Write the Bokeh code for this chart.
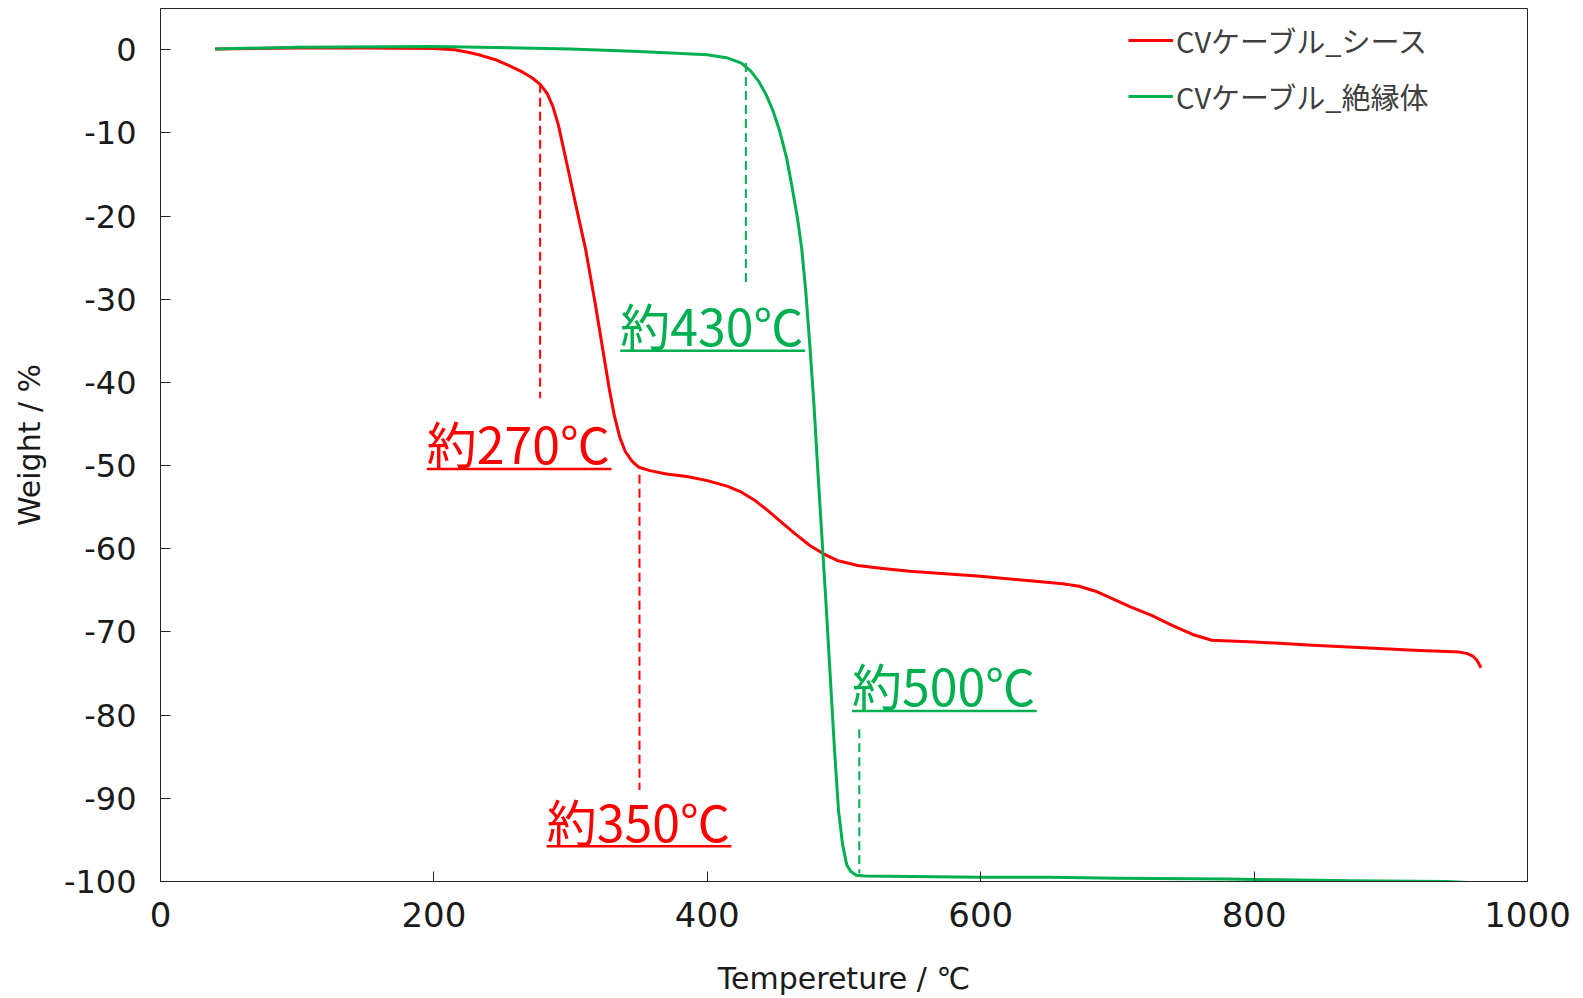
from bokeh.plotting import figure
from bokeh.models import Range1d, FixedTicker, Label, Legend, LegendItem
from bokeh.embed import file_html
from bokeh.resources import INLINE

# ---- data ----
temp_sheath = [40, 100, 150, 200, 215, 225, 235, 245, 255, 265, 272, 278, 283, 287, 291, 295, 299,
               304, 311, 318, 324, 328, 332, 336, 340, 345, 350, 358, 370, 385, 400, 415, 425, 435,
               445, 455, 465, 475, 485, 495, 510, 530, 548, 600, 640, 660, 672, 684, 695, 710, 725,
               740, 755, 769, 800, 843, 917, 950, 956, 960, 963, 966]
weight_sheath = [0.1, 0.2, 0.2, 0.15, 0.0, -0.3, -0.7, -1.2, -1.9, -2.7, -3.4, -4.2, -5.3, -6.8, -9.0,
                 -12.0, -15.0, -18.8, -24.0, -30.5, -36.5, -40.5, -44.0, -46.6, -48.3, -49.5, -50.2,
                 -50.6, -51.0, -51.3, -51.8, -52.5, -53.2, -54.2, -55.5, -56.9, -58.3, -59.6, -60.6,
                 -61.4, -62.0, -62.4, -62.7, -63.3, -63.9, -64.2, -64.5, -65.1, -65.9, -67.0, -68.0,
                 -69.2, -70.3, -71.0, -71.2, -71.6, -72.2, -72.4, -72.6, -72.9, -73.4, -74.3]

temp_insul = [40, 100, 200, 300, 350, 400, 415, 425, 432, 438, 443, 448, 453, 458, 462, 466, 469, 472,
              475, 478, 481, 484, 487, 490, 493, 496, 499, 502, 505, 509, 515, 550, 600, 650, 700,
              780, 820, 870, 940, 968]
weight_insul = [0.1, 0.3, 0.4, 0.1, -0.2, -0.6, -1.0, -1.6, -2.6, -3.9, -5.4, -7.3, -9.8, -13.0, -16.5,
                -20.3, -23.8, -29.0, -35.5, -42.6, -51.0, -59.0, -67.0, -75.5, -84.0, -91.5, -95.6,
                -98.0, -98.8, -99.25, -99.35, -99.4, -99.5, -99.5, -99.6, -99.7, -99.8, -99.9,
                -100.0, -100.2]

series_names = ["CVケーブル_シース", "CVケーブル_絶縁体"]
series_colors = ["#FF0000", "#00B050"]

x_ticks = [0, 200, 400, 600, 800, 1000]
x_tick_labels = ["0", "200", "400", "600", "800", "1000"]
y_ticks = [0, -10, -20, -30, -40, -50, -60, -70, -80, -90, -100]
y_tick_labels = ["0", "-10", "-20", "-30", "-40", "-50", "-60", "-70", "-80", "-90", "-100"]

# annotations: marked temperatures
ann_texts = ["約270℃", "約350℃", "約430℃", "約500℃"]
ann_series = [0, 0, 1, 1]
ann_line_x = [277.7, 350.4, 428.2, 511.2]
ann_line_top = [-4.1, -51.1, -1.6, -81.7]
ann_line_bottom = [-41.9, -89.0, -28.5, -99.0]
ann_text_x = [194.8, 282.5, 336.3, 505.9]
ann_underline_y = [-50.4, -95.75, -36.2, -79.5]

# ---- figure ----
p = figure(width=1583, height=998, output_backend="svg", toolbar_location=None,
           x_range=Range1d(0, 1000), y_range=Range1d(-100, 4.96),
           min_border_left=160, min_border_right=56, min_border_top=8, min_border_bottom=116)
p.background_fill_color = "white"
p.border_fill_color = "white"
p.outline_line_color = "#262626"
p.outline_line_width = 1
p.xgrid.visible = False
p.ygrid.visible = False

tick_font = "DejaVu Sans"
jp_font = "Noto Sans CJK JP"

p.xaxis.ticker = FixedTicker(ticks=x_ticks)
p.xaxis.major_label_overrides = {t: s for t, s in zip(x_ticks, x_tick_labels)}
p.yaxis.ticker = FixedTicker(ticks=y_ticks)
p.yaxis.major_label_overrides = {t: s for t, s in zip(y_ticks, y_tick_labels)}
for ax in (p.xaxis[0], p.yaxis[0]):
    ax.axis_line_color = "#262626"
    ax.major_tick_line_color = "#262626"
    ax.major_tick_in = 10
    ax.major_tick_out = 0
    ax.minor_tick_line_color = None
    ax.major_label_text_color = "#1a1a1a"
    ax.major_label_text_font = tick_font
    ax.axis_label_text_font = tick_font
    ax.axis_label_text_font_style = "normal"
    ax.axis_label_text_color = "#1a1a1a"
    ax.axis_label_text_font_size = "30px"

p.xaxis.major_label_text_font_size = "34px"
p.yaxis.major_label_text_font_size = "32px"
p.xaxis.major_label_standoff = 20
p.yaxis.major_label_standoff = 24
p.xaxis.axis_label = "Tempereture / ℃"
p.yaxis.axis_label = "Weight / %"
p.xaxis.axis_label_standoff = 31
p.yaxis.axis_label_standoff = 14

# curves
r1 = p.line(temp_sheath, weight_sheath, line_color=series_colors[0], line_width=3, line_join="round")
r2 = p.line(temp_insul, weight_insul, line_color=series_colors[1], line_width=3, line_join="round")

# annotations
label_width_px = 184.7
px_per_unit = 1367 / 1000.0
text_lift = 3.2  # data units between underline and text anchor
for i, txt in enumerate(ann_texts):
    c = series_colors[ann_series[i]]
    p.segment(x0=[ann_line_x[i]], y0=[ann_line_top[i]], x1=[ann_line_x[i]], y1=[ann_line_bottom[i]],
              line_color=c, line_width=2, line_dash="9 5")
    p.add_layout(Label(x=ann_text_x[i], y=ann_underline_y[i] + text_lift, text=txt, text_color=c,
                       text_font=jp_font, text_font_size="50px", text_baseline="alphabetic",
                       text_align="left"))
    uy = ann_underline_y[i]
    p.segment(x0=[ann_text_x[i]], y0=[uy], x1=[ann_text_x[i] + label_width_px / px_per_unit], y1=[uy],
              line_color=c, line_width=2.5)

legend = Legend(items=[LegendItem(label=series_names[0], renderers=[r1]),
                       LegendItem(label=series_names[1], renderers=[r2])],
                location=(968, 764), orientation="vertical")
legend.border_line_alpha = 0
legend.background_fill_alpha = 0
legend.padding = 0
legend.margin = 0
legend.spacing = 14
legend.glyph_width = 45
legend.glyph_height = 40
legend.label_height = 40
legend.label_standoff = 3
legend.label_text_font = jp_font
legend.label_text_font_size = "29px"
legend.label_text_color = "#404040"
legend.label_text_baseline = "middle"
p.add_layout(legend)

open("out.html", "w").write(file_html(p, INLINE))
